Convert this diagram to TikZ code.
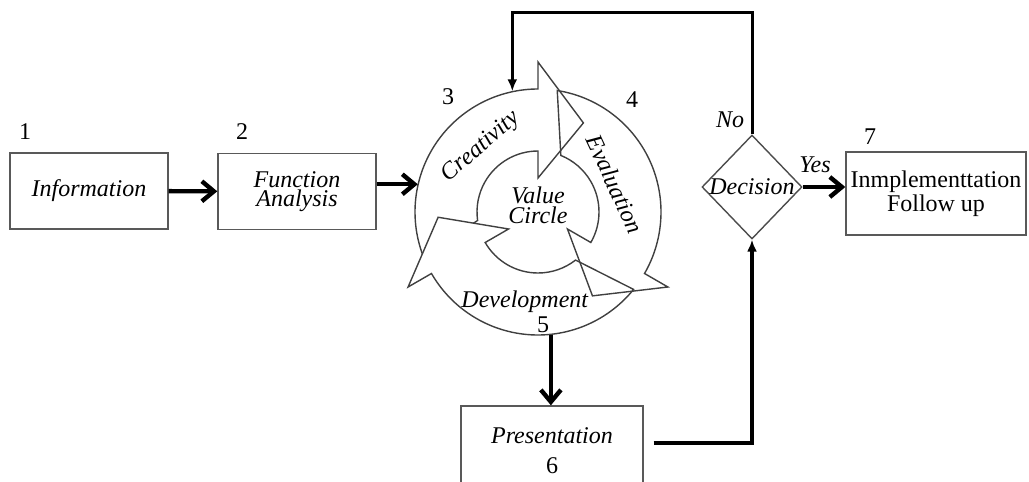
\documentclass[tikz,border=0pt]{standalone}
\usepackage{fontspec}
\setmainfont{Liberation Serif}
\usetikzlibrary{arrows.meta,shapes.geometric}

\tikzset{
  stepbox/.style={draw=black!65, line width=0.7pt, minimum width=79pt, minimum height=38pt, inner sep=2pt, align=center},
  fatarrow/.style={line width=2.2pt, -{Straight Barb[length=6pt,width=10pt]}},
  backline/.style={line width=1.6pt, -{Latex[length=6pt,width=5pt]}},
  ringarrow/.style={draw=black!75, line width=0.7pt},
}

\begin{document}
\begin{tikzpicture}[x=0.5pt,y=0.5pt,font=\fontsize{12}{14}\selectfont]
\useasboundingbox (0,0) rectangle (1029,-482);

% value circle
\node[circle, minimum size=123pt, inner sep=0pt] (ring) at (538,-212) {};
\foreach \rot/\fil in {0/none, 120/white, -120/none}
  \draw[ringarrow, fill=\fil, shift={(538,-212)}, rotate=\rot]
    (201:123) arc[start angle=201, end angle=90, radius=123]
    -- (90:150) -- (63:100) -- (90:34) -- (90:61)
    arc[start angle=90, end angle=188, radius=61] -- cycle;
\node[rotate=41] (crea) at (481,-147) {\textit{Creativity}};
\node[rotate=-65] (eval) at (615,-184) {\textit{Evaluation}};
\node[align=center, font=\fontsize{12}{10}\selectfont] (valc) at (538,-205) {\textit{Value}\\\textit{Circle}};
\node (dev) at (525,-302) {\textit{Development}};

% the steps
\node[stepbox] (info) at (89,-191) {\textit{Information}};
\node[stepbox, font=\fontsize{12}{9.5}\selectfont] (func) at (297,-191.5) {\textit{Function}\\\textit{Analysis}};
\node[stepbox, minimum width=91pt, minimum height=45pt, font=\fontsize{12}{15}\selectfont] (pres) at (552,-451) {\textit{Presentation}\\6};
\node[diamond, draw=black!70, line width=0.7pt, minimum width=50pt, minimum height=52pt, inner sep=0pt] (dec) at (752,-187) {\makebox[0pt]{\textit{Decision}}};
\node[stepbox, minimum width=90pt, minimum height=41.5pt, font=\fontsize{12}{9}\selectfont] (impl) at (936,-193.5) {Inmplementtation\\Follow up};

% numbers
\node (n1) at (25,-132) {1};
\node (n2) at (242,-132) {2};
\node (n3) at (448,-97) {3};
\node (n4) at (632,-100) {4};
\node (n5) at (543,-325) {5};
\node (n7) at (870,-137) {7};
\node (no) at (730,-120) {\textit{No}};
\node (yes) at (815,-165) {\textit{Yes}};

% connectors
\draw[fatarrow] (info) -- (func);
\draw[fatarrow] (ring.167 -| func.east) -- (ring.167);
\draw[fatarrow] (ring.276) -- (ring.276 |- pres.north);
\draw[fatarrow] (dec.east) -- (dec.east -| impl.west);
\draw[backline, shorten <=5pt] ([yshift=4pt]pres.east) -| (dec.south);
\coordinate (topy) at (0,-12);
\draw[backline, line width=1.5pt] (dec.north) |- (ring.102 |- topy) -- (ring.102);
\end{tikzpicture}
\end{document}
